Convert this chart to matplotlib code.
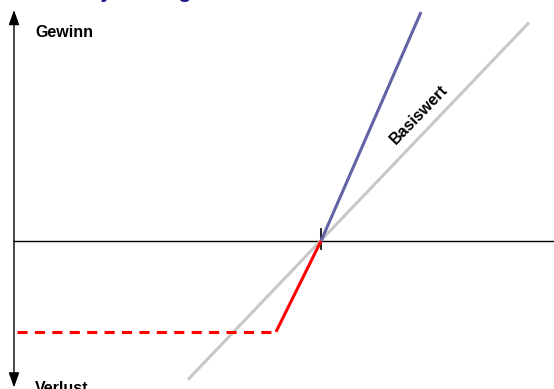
import matplotlib
matplotlib.use("Agg")
import matplotlib.pyplot as plt

# Auszahlungsprofil (Einheiten: Kurs relativ zum Basispreis / Gewinn-Verlust)
basis_x = [-13.3, 20.8]
basis_y = [-13.2, 20.8]

gewinn_x = [0, 10.0]
gewinn_y = [0, 21.8]

verlust_x = [-4.5, 0]
verlust_y = [-8.65, 0]

knockout_x = [-30.4, -4.5]
knockout_y = [-8.65, -8.65]

plt.rcParams['font.family'] = ['Liberation Sans', 'DejaVu Sans']

fig = plt.figure(figsize=(5.54, 3.89), dpi=100)
ax = fig.add_axes([0, 0, 1, 1])
ax.axis('off')
ax.set_xlim(-32.1, 23.3)
ax.set_ylim(-14.095, 22.952)

# Achsen
achse_x = -30.7
ax.plot([achse_x, 24], [0, 0], color='black', lw=1.0, clip_on=False)
pfeil = dict(arrowstyle='-|>,head_length=0.9,head_width=0.32', color='black',
             lw=1.0, shrinkA=0, shrinkB=0, mutation_scale=10)
ax.annotate('', xy=(achse_x, 22.0), xytext=(achse_x, 0), arrowprops=pfeil)
ax.annotate('', xy=(achse_x, -13.95), xytext=(achse_x, 0), arrowprops=pfeil)
ax.plot([0, 0], [-0.8, 1.1], color='black', lw=1.2)

# Linien
ax.plot(basis_x, basis_y, color='#c8c8c8', lw=2.2, solid_capstyle='butt')
ax.plot(gewinn_x, gewinn_y, color='#6262a6', lw=2.2, solid_capstyle='butt')
ax.plot(verlust_x, verlust_y, color='#ff0000', lw=2.2, solid_capstyle='butt')
ax.plot(knockout_x, knockout_y, color='#ff0000', lw=2.2, dashes=(3.3, 2.4))

# Beschriftungen
ax.text(-28.6, 19.9, 'Gewinn', fontsize=11.5, fontweight='bold', ha='left', va='center')
ax.text(-28.6, -13.35, 'Verlust', fontsize=11.5, fontweight='bold', ha='left', va='top')
ax.text(9.8, 12.0, 'Basiswert', fontsize=11.5, fontweight='bold', rotation=46,
        rotation_mode='anchor', ha='center', va='center')
ax.text(-24.6, 23.1, 'Payoff-Diagramm Turbo-Zertifikat', fontsize=15, fontweight='bold',
        color='#1a1a8c', ha='left', va='baseline', clip_on=False)

fig.savefig('out.png', dpi=100)
